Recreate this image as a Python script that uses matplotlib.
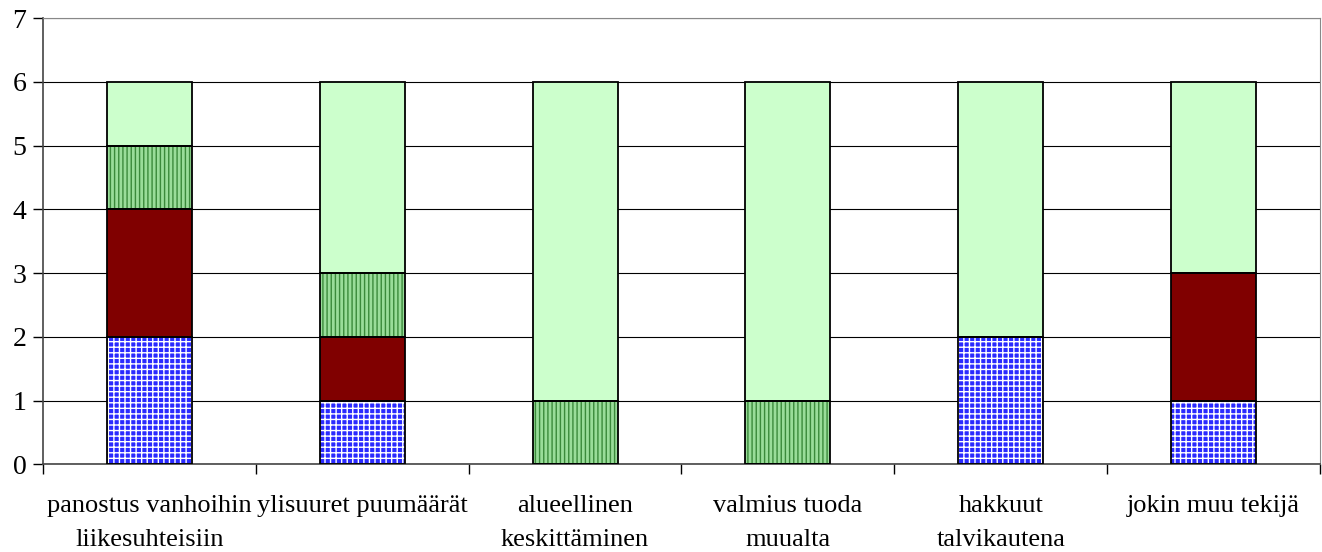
import matplotlib
matplotlib.use("Agg")
import matplotlib.pyplot as plt
import numpy as np

categories = ["panostus vanhoihin\nliikesuhteisiin", "ylisuuret puumäärät",
              "alueellinen\nkeskittäminen", "valmius tuoda\nmuualta",
              "hakkuut\ntalvikautena", "jokin muu tekijä"]
s_blue = [2, 1, 0, 0, 2, 1]
s_red = [2, 1, 0, 0, 0, 2]
s_stripe = [1, 1, 1, 1, 0, 0]
s_light = [1, 3, 5, 5, 4, 3]

plt.rcParams["font.family"] = ["Liberation Serif", "DejaVu Serif"]
plt.rcParams["hatch.linewidth"] = 1.0

fig = plt.figure(figsize=(13.22, 5.52), dpi=100)
ax = fig.add_axes([0.0325, 0.159, 0.966, 0.808])

x = np.arange(len(categories))
w = 0.4
styles = [
    (s_blue, "#2a2aff", "white", "+++"),
    (s_red, "#800000", None, None),
    (s_stripe, "#99dd99", "#3a8a3a", "||||"),
    (s_light, "#ccffcc", None, None),
]
bottom = np.zeros(len(categories))
for vals, fc, hc, hatch in styles:
    vals = np.array(vals, dtype=float)
    if hatch:
        ax.bar(x, vals, w, bottom=bottom, color=fc, edgecolor=hc,
               hatch=hatch, linewidth=0, zorder=2)
    else:
        ax.bar(x, vals, w, bottom=bottom, color=fc, linewidth=0, zorder=2)
    ax.bar(x, vals, w, bottom=bottom, fill=False, edgecolor="black",
           linewidth=1.3, zorder=3)
    bottom += vals

ax.set_xlim(-0.5, len(categories) - 0.5)
ax.set_ylim(0, 7)
ax.set_yticks(range(8))
ax.yaxis.grid(True, color="black", linewidth=0.8, zorder=0)
ax.set_axisbelow(True)
ax.set_xticks(np.arange(len(categories) + 1) - 0.5, minor=False)
ax.set_xticklabels([])
ax.set_xticks(x, minor=True)
ax.set_xticklabels(categories, minor=True, fontsize=19, linespacing=1.7)
ax.tick_params(axis="x", which="minor", length=0, pad=22)
ax.tick_params(axis="x", which="major", length=7, direction="out", width=1)
ax.tick_params(axis="y", length=7, direction="out", labelsize=20, width=1, pad=5)
for s in ["top", "right"]:
    ax.spines[s].set_color("#888888")
for s in ["left", "bottom"]:
    ax.spines[s].set_color("#444444")
    ax.spines[s].set_linewidth(1.2)

fig.savefig("out.png", dpi=100)
